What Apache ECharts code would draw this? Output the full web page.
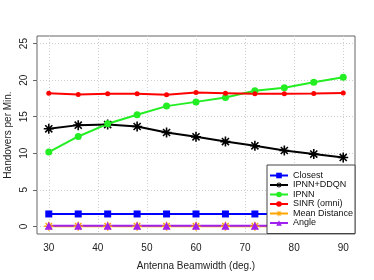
<!DOCTYPE html>
<html><head><meta charset="utf-8">
<script src="https://cdn.jsdelivr.net/npm/echarts@6/dist/echarts.min.js"></script>
<style>html,body{margin:0;padding:0;background:#fff}#c{width:374px;height:280px}</style>
</head><body><div id="c"></div>
<script>
const beamwidth = [30, 36, 42, 48, 54, 60, 66, 72, 78, 84, 90];
const closest = [1.7, 1.7, 1.7, 1.7, 1.7, 1.7, 1.7, 1.7, 1.7, 1.7, 1.7];
const ipnnDdqn = [13.35, 13.85, 13.93, 13.66, 12.84, 12.25, 11.6, 11.02, 10.38, 9.89, 9.43];
const ipnn = [10.16, 12.3, 14.03, 15.26, 16.45, 17.03, 17.62, 18.54, 18.95, 19.72, 20.4];
const sinrOmni = [18.22, 18.03, 18.13, 18.13, 17.99, 18.3, 18.22, 18.13, 18.13, 18.17, 18.26];
const meanDistance = [0.02, 0.02, 0.02, 0.02, 0.02, 0.02, 0.02, 0.02, 0.02, 0.02, 0.02];
const angle = [0.1, 0.1, 0.1, 0.1, 0.1, 0.1, 0.1, 0.1, 0.1, 0.1, 0.1];
const xTicks = [30, 40, 50, 60, 70, 80, 90];
const yTicks = [0, 5, 10, 15, 20, 25];
const seriesNames = ['Closest', 'IPNN+DDQN', 'IPNN', 'SINR (omni)', 'Mean Distance', 'Angle'];

const star = 'path://M0 4.2L10 4.2L10 5.8L0 5.8ZM4.2 0L5.8 0L5.8 10L4.2 10ZM2.0 0.9L9.1 8.0L8.0 9.1L0.9 2.0ZM8.0 0.9L9.1 2.0L2.0 9.1L0.9 8.0Z';
const pair = arr => beamwidth.map((x, i) => [x, arr[i]]);
const font = 'Liberation Sans, Arial, Helvetica, sans-serif';

function mk(name, data, color, symbol, size) {
  return {
    name, type: 'line', data: pair(data), symbol, symbolSize: size,
    lineStyle: { color, width: 2 },
    itemStyle: { color },
    emphasis: { disabled: true },
    animation: false
  };
}

const chart = echarts.init(document.getElementById('c'), null, { renderer: 'canvas' });
chart.setOption({
  animation: false,
  grid: { left: 37, right: 19, top: 36, bottom: 46, containLabel: false, outerBoundsMode: 'none', show: true, borderColor: '#666', borderWidth: 1, backgroundColor: 'transparent' },
  xAxis: {
    type: 'value', min: 27.6, max: 92.4,
    name: 'Antenna Beamwidth (deg.)', nameLocation: 'middle', nameGap: 27, nameMoveOverlap: false,
    nameTextStyle: { fontFamily: font, fontSize: 10, color: '#222' },
    axisLine: { show: false },
    axisTick: { show: false, customValues: xTicks },
    axisLabel: { customValues: xTicks, fontFamily: font, fontSize: 10, color: '#222', margin: 9 },
    splitLine: { show: true, lineStyle: { color: '#cfcfcf', type: [1, 2], width: 1 } }
  },
  yAxis: {
    type: 'value', min: -1.04, max: 26.04,
    name: 'Handovers per Min.', nameLocation: 'middle', nameGap: 24, nameRotate: 90, nameMoveOverlap: false,
    nameTextStyle: { fontFamily: font, fontSize: 10, color: '#222' },
    axisLine: { show: false },
    axisTick: { show: true, length: 4, customValues: yTicks, lineStyle: { color: '#666' } },
    axisLabel: { customValues: yTicks, rotate: 90, fontFamily: font, fontSize: 10, color: '#222', margin: 8 },
    splitLine: { show: true, lineStyle: { color: '#cfcfcf', type: [1, 2], width: 1 } }
  },
  legend: {
    data: seriesNames,
    orient: 'vertical', left: 267, top: 165,
    backgroundColor: '#fff', borderColor: '#444', borderWidth: 1,
    padding: [6, 2, 6, 2], itemWidth: 18, itemHeight: 7, itemGap: 0.5,
    textStyle: { fontFamily: font, fontSize: 9, color: '#111', lineHeight: 9 },
    selectedMode: false, z: 10
  },
  series: [
    mk('Closest', closest, '#0000ff', 'rect', 7),
    mk('IPNN+DDQN', ipnnDdqn, '#000000', star, 10),
    mk('IPNN', ipnn, '#22ee22', 'circle', 7),
    mk('SINR (omni)', sinrOmni, '#ff0000', 'circle', 5),
    mk('Mean Distance', meanDistance, '#ffa500', star, 9),
    mk('Angle', angle, '#a020f0', 'triangle', 8)
  ]
});
</script></body></html>
